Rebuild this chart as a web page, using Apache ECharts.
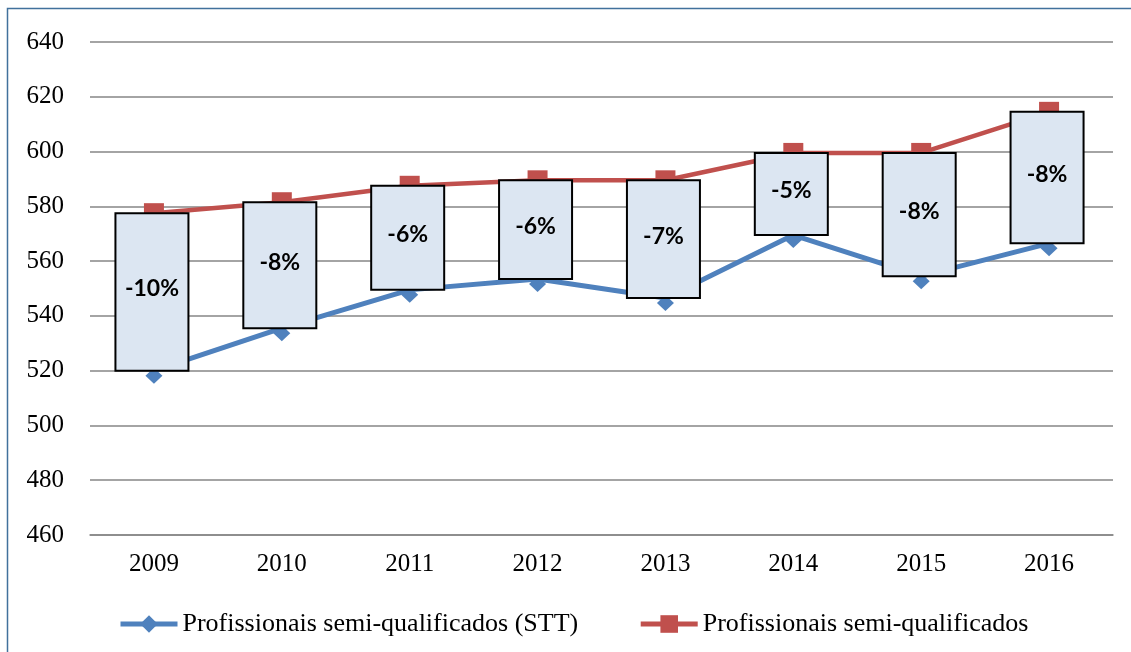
<!DOCTYPE html>
<html>
<head>
<meta charset="utf-8">
<script src="https://cdn.jsdelivr.net/npm/echarts@6/dist/echarts.min.js"></script>
<style>
  html, body { margin: 0; padding: 0; background: #fff; }
  #chart { width: 1131px; height: 652px; }
</style>
</head>
<body>
<div id="chart"></div>
<script>
// dados
const years = ['2009', '2010', '2011', '2012', '2013', '2014', '2015', '2016']
const sttValues = [520, 535.5, 549.5, 553.5, 546.5, 569.5, 554.5, 566.5]
const semiValues = [577.5, 581.5, 587.5, 589.5, 589.5, 599.5, 599.5, 614.5]
const gapLabels = ['-10%', '-8%', '-6%', '-6%', '-7%', '-5%', '-8%', '-8%']
const yTicks = [460, 640, 20] // min, max, intervalo

const serif = '"Liberation Serif", "Times New Roman", serif'

const chart = echarts.init(document.getElementById('chart'))

// caixas entre as duas linhas (tipo "up-down bars")
const boxData = years.map((y, i) => [i, sttValues[i], semiValues[i], gapLabels[i]])

const option = {
    animation: false,
    backgroundColor: '#fff',
    grid: { left: 90, right: 18, top: 42, bottom: 117 },
    graphic: [{
        type: 'rect',
        shape: { x: 7.5, y: 8.5, width: 1300, height: 800 },
        style: { fill: 'none', stroke: '#41719c', lineWidth: 1.5 },
        silent: true
    }],
    legend: {
        left: 113,
        top: 606,
        itemWidth: 57,
        itemHeight: 22,
        itemGap: 60,
        lineStyle: { width: 5 },
        textStyle: { fontFamily: serif, fontSize: 26, color: '#000' },
        data: ['Profissionais semi-qualificados (STT)', 'Profissionais semi-qualificados']
    },
    xAxis: {
        type: 'category',
        data: years,
        boundaryGap: true,
        axisLine: { lineStyle: { color: '#868686', width: 1.5 } },
        axisTick: { show: false },
        axisLabel: { fontFamily: serif, fontSize: 25, color: '#000', margin: 17 }
    },
    yAxis: {
        type: 'value',
        min: yTicks[0],
        max: yTicks[1],
        interval: yTicks[2],
        axisLine: { show: false },
        axisTick: { show: false },
        axisLabel: { fontFamily: serif, fontSize: 25, color: '#000', margin: 26 },
        splitLine: { lineStyle: { color: '#868686', width: 1.5 } }
    },
    series: [
        {
            name: 'Profissionais semi-qualificados (STT)',
            type: 'line',
            data: sttValues,
            color: '#4f81bd',
            lineStyle: { width: 5, color: '#4f81bd' },
            symbol: 'diamond',
            symbolSize: [17, 16],
            symbolOffset: [0, 5],
            showSymbol: true,
            z: 2
        },
        {
            name: 'Profissionais semi-qualificados',
            type: 'line',
            data: semiValues,
            color: '#c0504d',
            lineStyle: { width: 4.5, color: '#c0504d' },
            symbol: 'rect',
            symbolSize: [20, 12],
            symbolOffset: [0, -4],
            showSymbol: true,
            z: 2
        },
        {
            type: 'custom',
            data: boxData,
            z: 5,
            renderItem: function (params, api) {
                const x = api.value(0)
                const lo = api.coord([x, api.value(1)])
                const hi = api.coord([x, api.value(2)])
                const w = 73
                return {
                    type: 'group',
                    children: [
                        {
                            type: 'rect',
                            shape: { x: lo[0] - w / 2 - 2, y: hi[1], width: w, height: lo[1] - hi[1] },
                            style: { fill: '#dce6f2', stroke: '#000', lineWidth: 2 }
                        },
                        {
                            type: 'text',
                            style: {
                                x: lo[0] - 2,
                                y: (lo[1] + hi[1]) / 2 - 3,
                                text: api.value(3),
                                fontFamily: 'Lato, "Open Sans", sans-serif',
                                fontWeight: 'bold',
                                fontSize: 23,
                                fill: '#000',
                                align: 'center',
                                verticalAlign: 'middle'
                            }
                        }
                    ]
                }
            }
        }
    ]
}

chart.setOption(option)
</script>
</body>
</html>
